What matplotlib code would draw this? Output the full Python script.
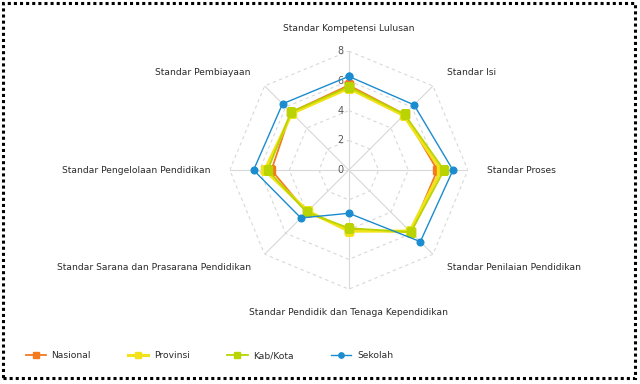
import numpy as np
import matplotlib
matplotlib.use("Agg")
import matplotlib.pyplot as plt
from matplotlib.patches import Rectangle

categories = [
    "Standar Kompetensi Lulusan",
    "Standar Isi",
    "Standar Proses",
    "Standar Penilaian Pendidikan",
    "Standar Pendidik dan Tenaga Kependidikan",
    "Standar Sarana dan Prasarana Pendidikan",
    "Standar Pengelolaan Pendidikan",
    "Standar Pembiayaan",
]
nasional = [5.7, 5.3, 5.95, 5.9, 4.0, 4.0, 5.2, 5.5]
provinsi = [5.5, 5.2, 6.2, 5.8, 4.1, 3.9, 5.65, 5.4]
kabkota = [5.6, 5.3, 6.4, 5.9, 3.9, 4.0, 5.45, 5.5]
sekolah = [6.3, 6.2, 7.0, 6.8, 2.9, 4.55, 6.4, 6.3]
r_ticks = [0, 2, 4, 6, 8]

series = [
    ("Nasional", nasional, "#f47a20", "s", 1.3, 5.5),
    ("Provinsi", provinsi, "#f2e21a", "s", 2.2, 5.5),
    ("Kab/Kota", kabkota, "#b9d400", "s", 1.3, 5.5),
    ("Sekolah", sekolah, "#1b8ccf", "o", 1.0, 4.8),
]

plt.rcParams["font.family"] = "DejaVu Sans"
FS = 6.6
TXT = "#2a2a2a"

fig = plt.figure(figsize=(6.4, 3.84), dpi=100)
ax = fig.add_axes([0.359, 0.247, 0.372, 0.620], projection="polar")
ax.set_theta_zero_location("N")
ax.set_theta_direction(-1)
ax.set_ylim(0, 8)
ax.grid(False)
ax.set_xticks([])
ax.set_yticks([])
ax.spines["polar"].set_visible(False)
ax.patch.set_alpha(0)

n = len(categories)
theta = np.arange(n) * 2 * np.pi / n
closed = np.append(theta, theta[0])

# octagon grid
for r in r_ticks[1:]:
    ax.plot(closed, [r] * (n + 1), color="#d8d8d8", lw=0.8, ls=(0, (3, 3)), zorder=1)
for t in theta:
    ax.plot([t, t], [0, 8], color="#d8d8d8", lw=0.8, zorder=1)

for r in r_ticks:
    ax.annotate(str(r), (0, r), xytext=(-4, 0), textcoords="offset points",
                ha="right", va="center", fontsize=FS + 0.3, color="#555555")

for name, vals, col, mk, lw, ms in series:
    ax.plot(closed, vals + vals[:1], color=col, lw=lw, marker=mk, ms=ms,
            label=name, zorder=3)

# category labels
for t, lab in zip(theta, categories):
    s = np.sin(t)
    if abs(s) < 1e-6:
        ha = "center"
    elif s > 0:
        ha = "left"
    else:
        ha = "right"
    r = 9.55 if abs(s) < 1e-6 else 9.3
    ax.text(t, r, lab, ha=ha, va="center", fontsize=FS, color=TXT, clip_on=False)

fig.legend(loc="center left", bbox_to_anchor=(0.027, 0.073), ncol=4,
           frameon=False, fontsize=FS, handlelength=2.2, handletextpad=0.6,
           columnspacing=4.1, labelcolor=TXT, markerscale=0.8)

fig.patches.append(Rectangle((3 / 640, 6 / 384), 632 / 640, 375 / 384,
                             transform=fig.transFigure, fill=False,
                             ec="black", lw=2.2, ls=(0, (1, 1)),
                             capstyle="butt"))

fig.savefig("out.png", dpi=100)
